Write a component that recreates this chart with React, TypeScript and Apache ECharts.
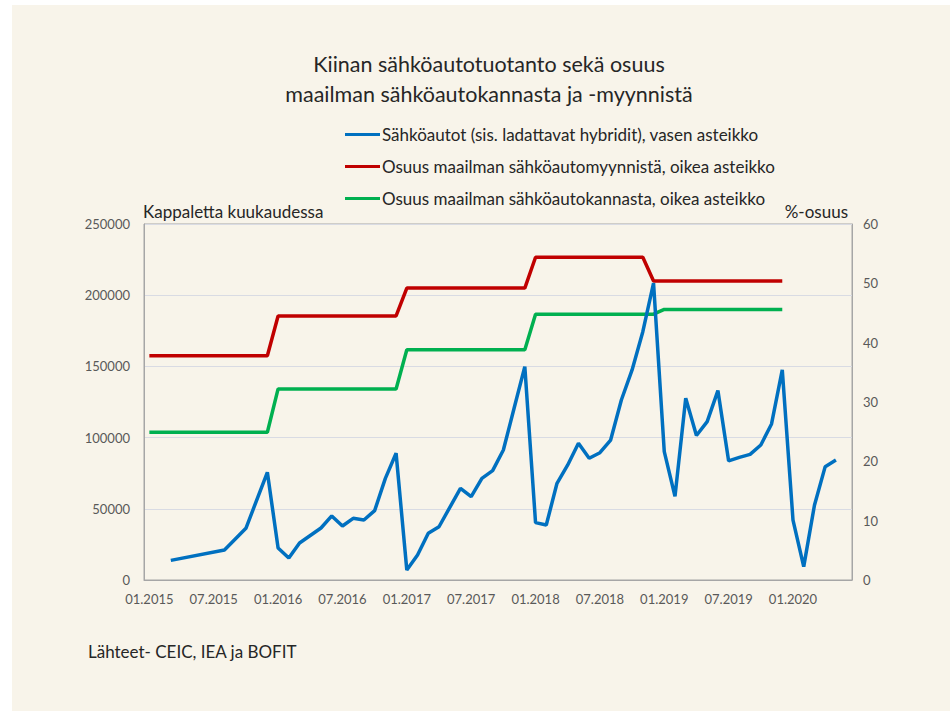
import React, { useEffect, useRef } from "react";
import * as echarts from "echarts";

// Month categories 01.2015 .. 06.2020
const months: string[] = [
  "01.2015","02.2015","03.2015","04.2015","05.2015","06.2015","07.2015","08.2015","09.2015","10.2015","11.2015","12.2015",
  "01.2016","02.2016","03.2016","04.2016","05.2016","06.2016","07.2016","08.2016","09.2016","10.2016","11.2016","12.2016",
  "01.2017","02.2017","03.2017","04.2017","05.2017","06.2017","07.2017","08.2017","09.2017","10.2017","11.2017","12.2017",
  "01.2018","02.2018","03.2018","04.2018","05.2018","06.2018","07.2018","08.2018","09.2018","10.2018","11.2018","12.2018",
  "01.2019","02.2019","03.2019","04.2019","05.2019","06.2019","07.2019","08.2019","09.2019","10.2019","11.2019","12.2019",
  "01.2020","02.2020","03.2020","04.2020","05.2020","06.2020",
];

// Electric cars produced per month (left axis)
const production: (number | null)[] = [
  null, null, 13800, null, null, null, null, 21100, null, 36300, null, 75600,
  22500, 15500, 26000, null, 36500, 45000, 37900, 43300, 42100, 48700, 71400, 89000,
  7000, 17600, 32800, 37400, null, 64400, 58500, 71400, 76800, 91300, 120600, 149800,
  40300, 38600, 67900, 80800, 96000, 85500, 89400, 98300, 126400, 147500, 174400, 208500,
  90100, 58700, 127600, 101500, 111200, 133000, 83600, 86100, 88200, 94800, 109600, 147500,
  42100, 9400, 52500, 79600, 84300, null,
];

// Share of world EV sales, % (right axis)
const salesShare: (number | null)[] = [
  37.8, 37.8, 37.8, 37.8, 37.8, 37.8, 37.8, 37.8, 37.8, 37.8, 37.8, 37.8,
  44.5, 44.5, 44.5, 44.5, 44.5, 44.5, 44.5, 44.5, 44.5, 44.5, 44.5, 44.5,
  49.2, 49.2, 49.2, 49.2, 49.2, 49.2, 49.2, 49.2, 49.2, 49.2, 49.2, 49.2,
  54.4, 54.4, 54.4, 54.4, 54.4, 54.4, 54.4, 54.4, 54.4, 54.4, 54.4, 50.4,
  50.4, 50.4, 50.4, 50.4, 50.4, 50.4, 50.4, 50.4, 50.4, 50.4, 50.4, 50.4,
  null, null, null, null, null, null,
];

// Share of world EV stock, % (right axis)
const stockShare: (number | null)[] = [
  24.9, 24.9, 24.9, 24.9, 24.9, 24.9, 24.9, 24.9, 24.9, 24.9, 24.9, 24.9,
  32.2, 32.2, 32.2, 32.2, 32.2, 32.2, 32.2, 32.2, 32.2, 32.2, 32.2, 32.2,
  38.8, 38.8, 38.8, 38.8, 38.8, 38.8, 38.8, 38.8, 38.8, 38.8, 38.8, 38.8,
  44.8, 44.8, 44.8, 44.8, 44.8, 44.8, 44.8, 44.8, 44.8, 44.8, 44.8, 44.8,
  45.6, 45.6, 45.6, 45.6, 45.6, 45.6, 45.6, 45.6, 45.6, 45.6, 45.6, 45.6,
  null, null, null, null, null, null,
];

const seriesNames: string[] = [
  "Sähköautot (sis. ladattavat hybridit), vasen asteikko",
  "Osuus maailman sähköautomyynnistä, oikea asteikko",
  "Osuus maailman sähköautokannasta, oikea asteikko",
];

const titleText = "Kiinan sähköautotuotanto sekä osuus\nmaailman sähköautokannasta ja -myynnistä";
const leftAxisName = "Kappaletta kuukaudessa";
const rightAxisName = "%-osuus";
const sourceText = "Lähteet- CEIC, IEA ja BOFIT";

const FONT = "Lato, 'Noto Sans', sans-serif";
const TEXT = "#262626";
const AXIS_TEXT = "#595959";
const CREAM = "#f8f4ea";

export default function App() {
  const ref = useRef<HTMLDivElement>(null);

  useEffect(() => {
    if (!ref.current) return;
    const chart = echarts.init(ref.current, undefined, { renderer: "svg" });
    chart.setOption({
      animation: false,
      backgroundColor: "#ffffff",
      textStyle: { fontFamily: FONT },
      graphic: [
        {
          type: "rect",
          z: -10,
          silent: true,
          shape: { x: 12, y: 5, width: 950 - 12, height: 711 - 5 },
          style: { fill: CREAM },
        },
        {
          type: "text",
          x: 143,
          y: 211,
          style: {
            text: leftAxisName,
            font: `17px ${FONT}`,
            fill: TEXT,
            textVerticalAlign: "middle",
          },
        },
        {
          type: "text",
          x: 848,
          y: 211,
          style: {
            text: rightAxisName,
            font: `17px ${FONT}`,
            fill: TEXT,
            textAlign: "right",
            textVerticalAlign: "middle",
          },
        },
        {
          type: "text",
          x: 88,
          y: 651,
          style: {
            text: sourceText,
            font: `17px ${FONT}`,
            fill: TEXT,
            textVerticalAlign: "middle",
          },
        },
      ],
      title: {
        text: titleText,
        left: 484,
        top: 44,
        textAlign: "center",
        textStyle: {
          fontFamily: FONT,
          fontSize: 21.5,
          fontWeight: "normal",
          color: TEXT,
          lineHeight: 30,
        },
      },
      legend: {
        orient: "vertical",
        left: 340,
        top: 121,
        itemWidth: 35,
        itemHeight: 3,
        itemGap: 15,
        icon: "rect",
        data: seriesNames,
        textStyle: {
          fontFamily: FONT,
          fontSize: 17,
          color: TEXT,
          lineHeight: 16,
          padding: [0, 0, 0, -3],
        },
      },
      grid: {
        left: 144,
        right: 98,
        top: 224,
        bottom: 131,
        show: true,
        borderColor: "#a6a6a6",
        borderWidth: 1,
        backgroundColor: "transparent",
      },
      xAxis: {
        type: "category",
        data: months,
        boundaryGap: true,
        axisLine: { lineStyle: { color: "#a6a6a6", width: 1 } },
        axisTick: { interval: 5, length: 5, lineStyle: { color: "#a6a6a6" } },
        axisLabel: {
          interval: 5,
          margin: 12,
          fontFamily: FONT,
          fontSize: 13,
          color: AXIS_TEXT,
        },
        splitLine: { show: false },
      },
      yAxis: [
        {
          type: "value",
          min: 0,
          max: 250000,
          interval: 50000,
          axisLine: { show: true, lineStyle: { color: "#a6a6a6" } },
          axisTick: { show: false },
          axisLabel: {
            margin: 14,
            fontFamily: FONT,
            fontSize: 13,
            color: AXIS_TEXT,
            formatter: (v: number) => String(v),
          },
          splitLine: { lineStyle: { color: "#d9dbe3", width: 1 } },
        },
        {
          type: "value",
          min: 0,
          max: 60,
          interval: 10,
          position: "right",
          axisLine: { show: true, lineStyle: { color: "#a6a6a6" } },
          axisTick: { show: false },
          axisLabel: {
            margin: 11,
            fontFamily: FONT,
            fontSize: 13,
            color: AXIS_TEXT,
            formatter: (v: number) => String(v),
          },
          splitLine: { show: false },
        },
      ],
      series: [
        {
          name: seriesNames[0],
          type: "line",
          yAxisIndex: 0,
          data: production,
          connectNulls: true,
          showSymbol: false,
          symbol: "none",
          lineStyle: { color: "#0070c0", width: 3.5 },
          itemStyle: { color: "#0070c0" },
          z: 5,
        },
        {
          name: seriesNames[1],
          type: "line",
          yAxisIndex: 1,
          data: salesShare,
          showSymbol: false,
          symbol: "none",
          lineStyle: { color: "#c00000", width: 3.5 },
          itemStyle: { color: "#c00000" },
          z: 3,
        },
        {
          name: seriesNames[2],
          type: "line",
          yAxisIndex: 1,
          data: stockShare,
          showSymbol: false,
          symbol: "none",
          lineStyle: { color: "#00b050", width: 3.5 },
          itemStyle: { color: "#00b050" },
          z: 4,
        },
      ],
    });
    return () => chart.dispose();
  }, []);

  return (
    <div
      ref={ref}
      style={{ position: "fixed", left: 0, top: 0, width: 950, height: 711 }}
    />
  );
}
